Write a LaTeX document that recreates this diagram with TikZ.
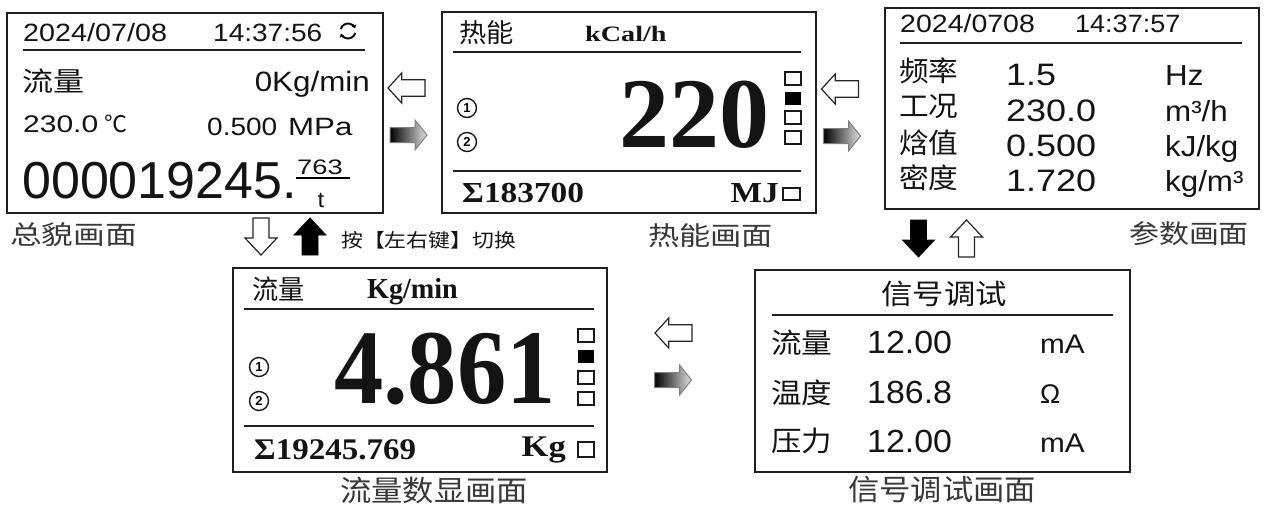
\documentclass[tikz,border=0pt]{standalone}
\usepackage{fontspec}
\usepackage{graphicx}
\setmainfont{Liberation Sans}
\newfontfamily\arfont{Liberation Sans}
\newfontfamily\cjfont{Noto Sans CJK SC}
\newfontfamily\trfont{Liberation Serif}
\usetikzlibrary{arrows.meta}
\newcommand\tA[3]{\scalebox{#2}[1]{\arfont\fontsize{#1}{#1}\selectfont #3}}
\newcommand\tC[3]{\scalebox{#2}[1]{\cjfont\fontsize{#1}{#1}\selectfont #3}}
\newcommand\tB[3]{\scalebox{#2}[1]{\trfont\bfseries\fontsize{#1}{#1}\selectfont #3}}
\newcommand\arL{(-18.5,0) -- (-4.8,-15) -- (-4.8,-8.3) -- (18.5,-8.3) -- (18.5,8.3) -- (-4.8,8.3) -- (-4.8,15) -- cycle}
\newcommand\arR{(18.5,0) -- (6.5,-15) -- (6.5,-7.5) -- (-18.5,-7.5) -- (-18.5,7.5) -- (6.5,7.5) -- (6.5,15) -- cycle}
\newcommand\arD{(0,18.5) -- (-16,1.5) -- (-8,1.5) -- (-8,-18.5) -- (8,-18.5) -- (8,1.5) -- (16,1.5) -- cycle}
\newcommand\arU{(0,-18.5) -- (-16,-1.5) -- (-8,-1.5) -- (-8,18.5) -- (8,18.5) -- (8,-1.5) -- (16,-1.5) -- cycle}
\tikzset{
  panel/.style={draw=black!88, line width=2, rectangle, inner sep=0},
  rule/.style={line width=1.8, draw=black!88},
  txt/.style={inner sep=0, text=black!92},
  lbl/.style={inner sep=0, text=black!78},
  sq/.style={draw=black!90, line width=1.3},
  hol/.style={draw=black!85, line width=1.2, fill=white, line join=miter},
  blk/.style={fill=black, draw=black, line width=0.8},
  grad/.style={left color=black, right color=black!12, draw=black!50, line width=1},
  num/.style={circle, draw=black!90, line width=1.4, inner sep=0, minimum size=19},
}
\begin{document}
\begin{tikzpicture}[x=1pt,y=-1pt]
\fill[white] (0,0) rectangle (1265,509);
\useasboundingbox (0,0) rectangle (1265,509);

% ---------- panel 1 ----------
\node[panel, minimum width=376, minimum height=200] (p1) at (195,113) {};
\node[txt, anchor=base west] (d1) at (23,41) {\tA{25}{1.15}{2024/07/08}};
\node[txt, anchor=base west] (t1) at (213,41) {\tA{25}{1.12}{14:37:56}};
\coordinate (rf) at (348,31);
\draw[line width=1.9, -{Stealth[length=3.5,width=5]}] ([shift={(15:7.5)}]rf) arc[start angle=15, end angle=160, radius=7.5];
\draw[line width=1.9, -{Stealth[length=3.5,width=5]}] ([shift={(195:7.5)}]rf) arc[start angle=195, end angle=340, radius=7.5];
\draw[rule] (23,50) -- (365,50);
\node[txt, anchor=west] (f1) at (22,81) {\tC{27}{1.15}{流量}};
\node[txt, anchor=base east] (u1) at (370,91) {\tA{28}{1.12}{0Kg/min}};
\node[txt, anchor=base west] (tp) at (23,132) {\tA{24}{1.25}{230.0}};
\node[txt, anchor=base west] (deg) at (104,132) {\tC{23}{1}{℃}};
\node[txt, anchor=base west] (pr) at (207,135) {\tA{25}{1.12}{0.500}};
\node[txt, anchor=base west] (mpa) at (288,135) {\tA{25}{1.25}{MPa}};
\node[txt, anchor=base west] (tot) at (22,198) {\tA{52}{1}{000019245.}};
\node[txt, anchor=base west] (fr) at (297,174) {\tA{21}{1.3}{763}};
\draw[line width=1.2] (296,178) -- (350,178);
\node[txt, anchor=base] (tu) at (321,207) {\tA{22}{1.1}{t}};
\node[lbl, anchor=west] (L1) at (10,235) {\tC{26}{1.22}{总貌画面}};

% ---------- panel 2 ----------
\node[panel, minimum width=374, minimum height=201] (p2) at (629,112.5) {};
\node[txt, anchor=west] (h2) at (459,33) {\tC{26}{1.05}{热能}};
\node[txt, anchor=base west] (u2) at (585,41) {\tB{22}{1.28}{kCal/h}};
\draw[rule] (453,52) -- (801,52);
\draw[rule] (453,171) -- (801,171);
\node[txt, anchor=base east] (v2) at (770,147) {\tB{100}{1}{220}};
\draw[sq] (785,72) rectangle (801,85);
\fill[black] (785,92) rectangle (801,105);
\draw[sq] (785,111) rectangle (801,124);
\draw[sq] (785,131) rectangle (801,144);
\node[num] (n21) at (467,108) {\tA{13}{1}{\bfseries 1}};
\node[num] (n22) at (467,142) {\tA{13}{1}{\bfseries 2}};
\node[txt, anchor=base west] (s2) at (462,202) {\tB{29}{1.15}{Σ183700}};
\node[txt, anchor=base east] (mj) at (779,202) {\tB{29}{1.15}{MJ}};
\draw[sq] (783,188) rectangle (800,200);
\node[lbl, anchor=west] (L2) at (648,236) {\tC{26}{1.2}{热能画面}};

% ---------- panel 3 ----------
\node[panel, minimum width=374, minimum height=201] (p3) at (1072,108.5) {};
\node[txt, anchor=base west] (d3) at (900,32) {\tA{25}{1.14}{2024/0708}};
\node[txt, anchor=base west] (t3) at (1075,32) {\tA{25}{1.08}{14:37:57}};
\draw[rule] (900,43) -- (1242,43);
\node[txt, anchor=west] (k31) at (899,71) {\tC{28}{1.06}{频率}};
\node[txt, anchor=west] (k32) at (899,107) {\tC{28}{1.06}{工况}};
\node[txt, anchor=west] (k33) at (899,143) {\tC{28}{1.06}{焓值}};
\node[txt, anchor=west] (k34) at (899,178) {\tC{28}{1.06}{密度}};
\node[txt, anchor=base west] (v31) at (1006,85) {\tA{31}{1.16}{1.5}};
\node[txt, anchor=base west] (v32) at (1006,121) {\tA{31}{1.16}{230.0}};
\node[txt, anchor=base west] (v33) at (1006,156) {\tA{31}{1.16}{0.500}};
\node[txt, anchor=base west] (v34) at (1006,191) {\tA{31}{1.16}{1.720}};
\node[txt, anchor=base west] (w31) at (1165,85) {\tA{29}{1.08}{Hz}};
\node[txt, anchor=base west] (w32) at (1165,121) {\tA{29}{1.08}{m³/h}};
\node[txt, anchor=base west] (w33) at (1165,156) {\tA{29}{1.08}{kJ/kg}};
\node[txt, anchor=base west] (w34) at (1165,191) {\tA{29}{1.08}{kg/m³}};
\node[lbl, anchor=west] (L3) at (1129,234) {\tC{26}{1.15}{参数画面}};

% ---------- panel 4 ----------
\node[panel, minimum width=374, minimum height=204] (p4) at (420,370) {};
\node[txt, anchor=west] (h4) at (252,289) {\tC{27}{0.97}{流量}};
\node[txt, anchor=base west] (u4) at (367,298) {\tB{29}{0.97}{Kg/min}};
\draw[rule] (244,309) -- (594,309);
\draw[rule] (244,426) -- (594,426);
\node[txt, anchor=base east] (v4) at (556,403) {\tB{106}{0.93}{4.861}};
\draw[sq] (578,329) rectangle (594,342);
\fill[black] (578,350) rectangle (594,363);
\draw[sq] (578,371) rectangle (594,384);
\draw[sq] (578,392) rectangle (594,405);
\node[num] (n41) at (259,367) {\tA{13}{1}{\bfseries 1}};
\node[num] (n42) at (259,401) {\tA{13}{1}{\bfseries 2}};
\node[txt, anchor=base west] (s4) at (254,459) {\tB{30}{1.1}{Σ19245.769}};
\node[txt, anchor=base east] (kg) at (566,456) {\tB{30}{1.15}{Kg}};
\draw[sq] (578,442) rectangle (594,457);
\node[lbl] (L4) at (434,490) {\tC{29}{1.08}{流量数显画面}};

% ---------- panel 5 ----------
\node[panel, minimum width=375, minimum height=202] (p5) at (942.5,371) {};
\node[txt] (h5) at (944,294) {\tC{28}{1.12}{信号调试}};
\draw[rule] (772,315) -- (1113,315);
\node[txt, anchor=west] (k51) at (771,343) {\tC{28}{1.09}{流量}};
\node[txt, anchor=west] (k52) at (771,393) {\tC{28}{1.09}{温度}};
\node[txt, anchor=west] (k53) at (771,441) {\tC{28}{1.09}{压力}};
\node[txt, anchor=base west] (v51) at (867,353) {\tA{32}{1.06}{12.00}};
\node[txt, anchor=base west] (v52) at (867,403) {\tA{32}{1.06}{186.8}};
\node[txt, anchor=base west] (v53) at (867,452) {\tA{32}{1.06}{12.00}};
\node[txt, anchor=base west] (w51) at (1040,353) {\tA{27}{1.1}{mA}};
\node[txt, anchor=base west] (w52) at (1040,403) {\tA{27}{1}{Ω}};
\node[txt, anchor=base west] (w53) at (1040,452) {\tA{27}{1.1}{mA}};
\node[lbl] (L5) at (942,490) {\tC{29}{1.08}{信号调试画面}};

% ---------- key hint ----------
\node[txt, anchor=west] (hint) at (341,240) {\tC{19}{1.15}{按【左右键】切换}};

% ---------- arrows ----------
\draw[hol, shift={(406.5,88)}] \arL;
\draw[grad, shift={(408.5,135)}] \arR;
\draw[hol, shift={(840,89)}] \arL;
\draw[grad, shift={(842,136)}] \arR;
\draw[hol, shift={(673.5,333)}] \arL;
\draw[grad, shift={(673,380)}] \arR;
\draw[hol, shift={(261,236.5)}] \arD;
\draw[blk, shift={(310,236.5)}] \arU;
\draw[blk, shift={(918.5,238.5)}] \arD;
\draw[hol, shift={(966.5,238.5)}] \arU;
\end{tikzpicture}
\end{document}
